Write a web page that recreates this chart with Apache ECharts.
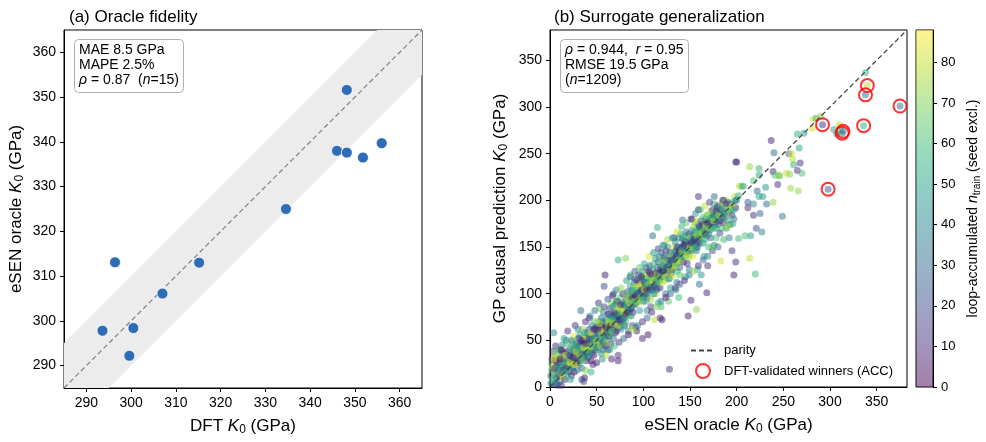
<!DOCTYPE html>
<html>
<head>
<meta charset="utf-8">
<script src="https://cdn.jsdelivr.net/npm/echarts@6/dist/echarts.min.js"></script>
<style>
html,body{margin:0;padding:0;background:#fff;}
#chart{width:986px;height:442px;}
</style>
</head>
<body>
<div id="chart"></div>
<script>
// ---------- Panel (a): oracle fidelity ----------
const dftK  = [348.2, 346.0, 348.2, 351.8, 356.0, 334.6, 315.2, 296.4, 307.0, 293.6, 300.5, 299.6];
const esenK = [351.6, 338.0, 337.6, 336.5, 339.7, 325.0, 313.0, 313.1, 306.1, 297.8, 298.4, 292.2];
const oracleTicks = [290, 300, 310, 320, 330, 340, 350, 360];
const oracleRange = [285, 365];
const bandHalfWidth = 10;

// ---------- Panel (b): surrogate generalization [eSEN K0, GP K0, n_train] ----------
const surrogatePts = [
[1,12,20],[2,25,45],[3,8,70],[3,38,15],[4,18,5],[4,58,40],[5,30,60],[5,3,30],[6,15,85],[6,44,8],[7,22,50],[7,10,22],[8,33,66],[8,2,12],[9,18,35],[9,27,78],[10,12,3],[10,40,55],[2,18,62],[6,28,28],
[11,24,18],[11,6,44],[12,32,72],[12,16,9],[13,45,36],[13,20,58],[14,10,81],[14,28,25],[15,36,4],[15,18,48],[16,24,67],[16,8,14],[17,50,30],[17,30,76],[18,14,52],[18,38,2],[19,22,40],[19,60,11],[20,28,83],[20,16,20],[12,2,10],[15,52,50],[18,26,60],[13,38,24],
[21,34,6],[21,20,56],[22,42,33],[22,26,74],[23,12,17],[23,30,45],[24,48,64],[24,36,8],[25,22,29],[25,54,85],[26,30,41],[26,16,3],[27,40,69],[27,66,12],[28,26,54],[28,46,22],[29,34,78],[29,18,37],[30,38,5],[30,52,61],[22,8,47],[25,40,16],[28,32,88],[30,28,26],[24,28,13],[27,24,70],
[31,44,31],[31,24,66],[32,36,9],[32,56,49],[33,30,80],[33,48,19],[34,40,58],[34,20,27],[35,46,4],[35,62,72],[36,32,39],[36,50,14],[37,42,63],[37,10,6],[38,54,84],[38,36,23],[39,46,51],[39,28,11],[40,58,36],[40,40,76],[33,82,30],[36,6,18],[38,70,10],[32,42,57],[35,36,2],[39,38,44],
[41,48,8],[41,32,60],[42,62,25],[42,44,82],[43,38,16],[43,54,47],[44,46,70],[44,28,3],[45,66,38],[45,50,12],[46,40,57],[46,60,29],[47,52,86],[47,34,7],[48,44,42],[48,70,64],[49,56,20],[49,40,33],[50,50,74],[50,64,1],[43,76,45],[46,24,10],[48,54,26],[41,56,53],[45,44,79],
[51,58,35],[51,40,59],[52,48,13],[52,70,68],[53,60,22],[53,44,81],[54,66,5],[54,52,46],[55,74,30],[55,56,62],[56,46,17],[56,64,77],[57,58,9],[57,80,40],[58,50,55],[58,68,24],[59,62,71],[59,44,2],[60,72,48],[60,56,15],[52,90,12],[55,36,40],[58,108,20],[59,120,6],[54,60,84],[57,70,34],
[61,66,28],[61,50,67],[62,78,11],[62,60,52],[63,70,83],[63,54,4],[64,64,39],[64,84,18],[65,74,60],[65,58,25],[66,68,8],[66,90,73],[67,62,44],[67,76,14],[68,72,56],[68,52,31],[69,80,1],[69,66,78],[70,70,36],[70,88,21],[62,40,10],[65,46,15],[68,100,42],[64,72,66],[67,86,50],[70,58,12],
[71,76,47],[71,60,6],[72,84,70],[72,68,19],[73,74,33],[73,92,85],[74,64,12],[74,80,54],[75,70,26],[75,96,65],[76,78,3],[76,62,40],[77,86,76],[77,72,22],[78,80,58],[78,100,9],[79,74,45],[79,88,30],[80,82,68],[80,66,16],[73,28,6],[73,34,12],[66,30,8],[75,84,80],[78,90,38],[71,92,60],[81,138,70],[73,136,55],
[81,86,29],[81,70,62],[82,94,11],[82,78,84],[83,88,47],[83,102,23],[84,80,7],[84,92,57],[85,98,36],[85,76,72],[86,90,18],[86,108,50],[87,84,2],[87,96,66],[88,104,27],[88,88,80],[89,94,41],[89,80,13],[90,100,61],[90,112,34],[84,60,40],[88,66,22],[86,118,9],[83,94,75],[89,102,55],
[91,96,5],[91,108,74],[92,90,24],[92,104,52],[93,114,12],[93,98,86],[94,92,38],[94,106,63],[95,120,20],[95,100,45],[96,94,71],[96,112,8],[97,104,31],[97,118,57],[98,98,16],[98,110,79],[99,124,44],[99,102,3],[100,106,67],[100,92,26],[93,60,10],[99,52,8],[96,82,48],[100,116,35],[92,64,14],[105,56,5],
[101,112,18],[101,98,55],[102,120,73],[102,106,7],[103,100,42],[103,128,28],[104,112,60],[104,96,14],[105,118,83],[105,106,33],[106,124,4],[106,102,50],[107,114,69],[107,130,21],[108,108,39],[108,94,76],[109,120,10],[109,110,58],[110,126,46],[110,104,25],[110,162,30],[112,72,80],[104,82,40],[108,86,15],[102,116,64],
[111,116,2],[111,132,62],[112,108,30],[112,122,85],[113,114,15],[113,138,48],[114,120,70],[114,104,9],[115,128,37],[115,116,56],[116,134,23],[116,112,78],[117,122,6],[117,140,44],[118,118,65],[118,106,19],[119,128,53],[119,144,32],[120,124,11],[120,112,82],[115,171,55],[118,74,12],[120,72,5],[116,90,50],[113,100,72],[119,86,60],
[121,130,40],[121,118,67],[122,138,14],[122,124,51],[123,114,77],[123,132,27],[124,146,8],[124,126,60],[125,120,35],[125,136,88],[126,128,21],[126,150,45],[127,124,3],[127,140,71],[128,132,31],[128,116,56],[129,144,17],[129,128,80],[130,136,42],[130,122,24],[128,19,10],[124,100,30],[127,92,65],[129,106,48],[122,152,20],
[131,142,63],[131,126,10],[132,134,36],[132,150,82],[133,128,22],[133,144,53],[134,138,7],[134,156,44],[135,132,74],[135,146,28],[136,140,15],[136,124,59],[137,150,39],[137,134,84],[138,144,5],[138,160,50],[139,138,66],[139,128,25],[140,148,12],[140,136,77],[136,112,30],[138,96,60],[133,160,20],[140,164,48],[135,104,45],
[141,150,33],[141,140,58],[142,158,20],[142,144,86],[143,134,9],[143,152,46],[144,162,68],[144,146,27],[145,140,55],[145,156,2],[146,150,80],[146,166,37],[147,144,14],[147,158,62],[148,152,42],[148,138,73],[149,164,18],[149,148,51],[150,156,29],[150,142,66],[142,179,28],[148,76,8],[151,93,10],[145,118,52],[149,126,38],
[151,160,84],[151,146,23],[152,168,45],[152,154,7],[153,150,61],[153,162,31],[154,172,76],[154,158,16],[155,148,54],[155,166,39],[156,160,3],[156,176,70],[157,154,26],[157,168,57],[158,162,82],[158,150,12],[159,174,47],[159,158,35],[160,166,64],[160,154,20],[152,180,8],[156,178,82],[159,190,5],[159,204,10],[158,126,55],[157,83,72],[160,110,30],
[161,170,40],[161,158,73],[162,178,19],[162,164,50],[163,160,86],[163,172,28],[164,182,62],[164,168,9],[165,164,44],[165,176,71],[166,170,23],[166,158,58],[167,180,36],[167,166,80],[168,174,14],[168,162,52],[169,184,67],[169,170,31],[170,176,4],[170,164,59],[168,101,8],[169,130,10],[165,140,50],[162,120,45],[170,150,60],
[171,180,48],[171,168,25],[172,188,74],[172,174,11],[173,170,57],[173,182,38],[174,176,83],[174,190,18],[175,172,43],[175,184,66],[176,178,7],[176,196,53],[177,174,29],[177,186,78],[178,182,34],[178,170,61],[179,192,15],[179,178,46],[180,186,70],[180,174,22],[176,152,40],[178,160,62],[174,146,20],[180,150,30],
[181,190,56],[182,178,12],[183,196,81],[183,184,37],[184,170,64],[185,200,26],[185,188,50],[186,176,8],[187,194,72],[188,182,33],[188,200,85],[189,170,45],[190,188,19],[190,178,60],[191,198,40],[192,186,75],[193,174,28],[194,190,55],[195,184,15],[196,198,68],[197,180,35],[198,204,80],[199,192,10],[200,200,50],[183,135,82],[182,165,20],[186,158,60],[192,160,38],[195,146,14],[197,120,8],[199,134,10],[196,175,55],
[202,205,55],[202,159,60],[203,215,80],[205,215,70],[207,215,50],[209,162,62],[212,198,24],[212,192,12],[214,236,74],[214,138,80],[215,162,48],[218,184,12],[218,221,62],[218,196,40],[220,121,58],[221,170,20],[222,210,30],[224,234,55],[224,227,50],[224,204,52],[225,186,28],[227,166,40],[228,204,48],[231,214,45],[232,196,28],[237,264,8],[239,231,10],[240,251,30],[241,227,62],[244,217,12],[245,227,74],[246,226,66],[249,183,35],[239,198,72],[199,241,8],[200,241,12],
[253,229,80],[256,250,28],[257,228,70],[258,213,74],[259,250,82],[260,244,78],[261,238,55],[265,232,10],[266,210,72],[267,256,50],[268,240,10],[270,229,62],[265,271,55],[272,272,50],
[282,287,82],[285,288,58],[281,277,82],[290,290,72],[292,281,10],[298,212,25],[304,276,50],[307,271,55],[310,281,80],[311,275,60],[313,272,32],[314,274,35],[336,280,55],[338,313,28],[340,323,80],[338,337,55],[375,301,30],
[1,4,40],[2,30,10],[3,22,83],[4,10,55],[5,20,15],[6,36,72],[7,4,33],[8,26,6],[9,40,60],[10,22,45],[11,14,77],[12,40,5],[13,28,68],[14,18,20],[15,26,38],[16,34,84],[17,20,12],[18,46,62],[19,30,27],[20,36,50],[4,30,88],[8,14,42],[11,30,3],[16,16,58],
[21,26,80],[22,34,14],[23,40,63],[24,20,37],[25,32,9],[26,44,55],[27,32,22],[28,38,76],[29,26,5],[30,44,41],[31,36,70],[32,28,18],[33,40,47],[34,50,3],[35,28,64],[36,42,83],[37,34,29],[38,46,11],[39,54,68],[40,32,24],[23,50,40],[26,24,86],[31,52,16],[34,32,60],[37,58,45],
[41,40,72],[42,52,6],[43,46,35],[44,58,87],[45,36,19],[46,52,48],[47,44,66],[48,62,2],[49,48,57],[50,42,28],[51,50,80],[52,62,15],[53,52,43],[54,44,70],[55,64,10],[56,56,61],[57,48,25],[58,60,83],[59,54,37],[60,64,4],[42,36,50],[47,62,18],[53,68,75],[57,40,32],[60,48,69],
[61,58,12],[62,68,74],[63,62,30],[64,56,58],[65,66,7],[66,76,46],[67,68,85],[68,64,20],[69,72,53],[70,78,10],[71,68,65],[72,76,35],[73,66,80],[74,72,2],[75,78,49],[76,70,17],[77,80,71],[78,72,31],[79,82,86],[80,74,43],[63,78,22],[66,60,64],[72,92,28],[76,88,9],[79,66,57],
[81,78,19],[82,86,56],[83,80,5],[84,86,40],[85,90,81],[86,82,27],[87,92,63],[88,96,11],[89,88,48],[90,92,73],[91,88,34],[92,98,2],[93,92,59],[94,100,21],[95,108,84],[96,102,38],[97,96,70],[98,104,13],[99,96,52],[100,100,29],[82,100,66],[87,76,45],[91,116,25],[95,90,77],[98,118,6],
[101,104,81],[102,112,26],[103,108,61],[104,104,4],[105,112,49],[106,110,74],[107,106,16],[108,116,57],[109,104,35],[110,114,86],[111,108,22],[112,116,66],[113,122,8],[114,112,44],[115,120,79],[116,120,30],[117,114,60],[118,126,12],[119,118,71],[120,118,38],[103,92,55],[107,122,8],[111,100,47],[115,106,25],[119,136,65],
[121,124,3],[122,130,62],[123,124,36],[124,118,84],[125,128,17],[126,136,55],[127,130,27],[128,124,75],[129,136,9],[130,130,50],[131,134,21],[132,128,69],[133,136,40],[134,130,86],[135,140,12],[136,132,58],[137,142,31],[138,136,77],[139,146,6],[140,140,47],[123,140,30],[127,116,44],[131,118,80],[136,150,18],[139,120,63],
[141,146,72],[142,150,25],[143,144,61],[144,152,4],[145,148,40],[146,142,83],[147,150,19],[148,146,56],[149,156,33],[150,150,78],[151,154,10],[152,160,50],[153,156,27],[154,150,68],[155,158,8],[156,152,45],[157,162,74],[158,156,20],[159,166,60],[160,160,37],[143,160,52],[147,132,12],[153,140,86],[157,146,40],[160,172,15],
[161,164,65],[162,170,30],[163,166,78],[164,174,12],[165,170,55],[166,164,22],[167,172,84],[168,168,40],[169,176,6],[170,170,70],[171,174,35],[172,180,58],[173,176,16],[174,182,46],[175,178,80],[176,184,25],[177,180,63],[178,188,9],[179,184,52],[180,180,33],[164,154,45],[168,184,70],[172,160,28],[176,170,60],[180,194,20],
[181,184,76],[183,190,14],[184,192,58],[185,182,30],[187,186,44],[189,196,8],[191,190,66],[193,196,24],[195,194,82],[197,190,50],[199,200,36],[186,200,18],[190,172,74],
[30,62,40],[34,8,20],[38,18,70],[42,74,12],[44,16,55],[48,82,30],[50,26,8],[53,84,66],[56,30,44],[58,86,18],[60,34,77],[62,94,25],[64,40,50],[67,98,6],[69,44,61],[71,104,36],[74,48,14],[76,106,72],[79,52,29],[82,114,47],[84,56,3],[86,120,58],[89,62,80],[91,124,22],[94,66,41],[96,128,65],[99,70,11],[101,132,53],[104,74,27],[106,140,84],[109,80,9],[111,144,45],[114,86,70],[116,148,16],[119,92,38],[121,152,60],[124,96,4],[126,158,75],[129,100,31],[131,160,49],[134,106,13],[136,166,82],[139,110,25],[141,172,57],[144,114,7],[146,176,64],[149,120,34],[151,180,19],[154,124,72],[156,186,46],[159,130,11],[161,190,59],[164,136,28],[166,194,80],[169,140,40],[171,198,15],[174,150,66],[176,204,30]
];
const winners = [[292,281],[313,272],[314,274],[336,280],[338,313],[340,323],[375,301],[298,212]];
const surrogateRange = [0, 382.5];
const surrogateTicks = [0, 50, 100, 150, 200, 250, 300, 350];
const nTrainRange = [0, 88];
const nTrainTicks = [0, 10, 20, 30, 40, 50, 60, 70, 80];
const viridis = ['#440154','#482878','#3e4989','#31688e','#26828e','#1f9e89','#35b779','#6ece58','#b5de2b','#fde725'];

const FONT = '"Liberation Sans", Arial, Helvetica, sans-serif';
const chart = echarts.init(document.getElementById('chart'), null, {renderer: 'canvas'});

const nameRich = {
  t: {fontSize: 17, fontFamily: FONT, color: '#000'},
  i: {fontSize: 17, fontFamily: FONT, fontStyle: 'italic', color: '#000'},
  s: {fontSize: 12, fontFamily: FONT, color: '#000', padding: [8, 0, 0, 0]}
};

function valueAxis(gridIndex, range, ticks, extra) {
  return Object.assign({
    type: 'value', gridIndex: gridIndex, min: range[0], max: range[1],
    axisLine: {show: true, onZero: false, lineStyle: {color: '#000', width: 1}},
    axisTick: {show: true, inside: false, length: 4, customValues: ticks, lineStyle: {color: '#000', width: 1}},
    axisLabel: {show: true, customValues: ticks, fontSize: 14, fontFamily: FONT, color: '#000', margin: 8},
    splitLine: {show: false},
    nameLocation: 'middle',
    nameTextStyle: {fontSize: 17, fontFamily: FONT, color: '#000', rich: nameRich}
  }, extra || {});
}

const lo = oracleRange[0], hi = oracleRange[1], hw = bandHalfWidth;
const bandPolygon = [[lo, lo], [lo + hw, lo], [hi, hi - hw], [hi, hi], [hi - hw, hi], [lo, lo + hw]];

const option = {
  backgroundColor: '#fff',
  animation: false,
  textStyle: {fontFamily: FONT},
  title: [
    {text: '(a) Oracle fidelity', left: 64, top: 4, textStyle: {fontSize: 17, fontWeight: 'normal', fontFamily: FONT, color: '#000'}},
    {text: '(b) Surrogate generalization', left: 549, top: 4, textStyle: {fontSize: 17, fontWeight: 'normal', fontFamily: FONT, color: '#000'}},
    {text: 'MAE 8.5 GPa\nMAPE 2.5%\n{i|ρ} = 0.87  ({i|n}=15)', left: 74, top: 39,
     borderColor: '#b0b0b0', borderWidth: 1, borderRadius: 4, padding: [4, 5, 5, 5], backgroundColor: 'rgba(255,255,255,0.9)',
     textStyle: {fontSize: 14, fontWeight: 'normal', fontFamily: FONT, color: '#000', lineHeight: 15,
       rich: {i: {fontSize: 14, fontStyle: 'italic', fontFamily: FONT, color: '#000', lineHeight: 15}}}},
    {text: '{i|ρ} = 0.944,  {i|r} = 0.95\nRMSE 19.5 GPa\n({i|n}=1209)', left: 560, top: 39,
     borderColor: '#b0b0b0', borderWidth: 1, borderRadius: 4, padding: [4, 5, 5, 5], backgroundColor: 'rgba(255,255,255,0.9)',
     textStyle: {fontSize: 14, fontWeight: 'normal', fontFamily: FONT, color: '#000', lineHeight: 15,
       rich: {i: {fontSize: 14, fontStyle: 'italic', fontFamily: FONT, color: '#000', lineHeight: 15}}}}
  ],
  grid: [
    {left: 64, top: 30, width: 358, height: 358, show: true, borderColor: '#000', borderWidth: 1, backgroundColor: 'transparent'},
    {left: 550, top: 30, width: 357, height: 357, show: true, borderColor: '#000', borderWidth: 1, backgroundColor: 'transparent'},
    {left: 916, top: 30, width: 17, height: 357, show: true, borderColor: '#000', borderWidth: 1, backgroundColor: 'transparent'}
  ],
  xAxis: [
    valueAxis(0, oracleRange, oracleTicks, {name: '{t|DFT }{i|K}{s|0}{t| (GPa)}', nameGap: 28}),
    valueAxis(1, surrogateRange, surrogateTicks, {name: '{t|eSEN oracle }{i|K}{s|0}{t| (GPa)}', nameGap: 28}),
    {type: 'category', gridIndex: 2, data: ['cb'], show: false, boundaryGap: true}
  ],
  yAxis: [
    valueAxis(0, oracleRange, oracleTicks, {name: '{t|eSEN oracle }{i|K}{s|0}{t| (GPa)}', nameGap: 38}),
    valueAxis(1, surrogateRange, surrogateTicks, {name: '{t|GP causal prediction }{i|K}{s|0}{t| (GPa)}', nameGap: 40}),
    valueAxis(2, nTrainRange, nTrainTicks, {position: 'right',
      axisLabel: {customValues: nTrainTicks, fontSize: 13, fontFamily: FONT, color: '#000', margin: 8},
      name: '{c|loop-accumulated }{ci|n}{cs|train}{c| (seed excl.)}', nameGap: 32, nameRotate: 90,
      nameTextStyle: {fontFamily: FONT, color: '#000', rich: {
        c: {fontSize: 14, fontFamily: FONT, color: '#000'},
        ci: {fontSize: 14, fontFamily: FONT, fontStyle: 'italic', color: '#000'},
        cs: {fontSize: 10, fontFamily: FONT, color: '#000', padding: [7, 0, 0, 0]}}}})
  ],
  visualMap: [{
    type: 'continuous', show: false, seriesIndex: 3, dimension: 2,
    min: nTrainRange[0], max: nTrainRange[1], inRange: {color: viridis}
  }],
  legend: {
    orient: 'vertical', left: 685, top: 339, itemWidth: 24, itemHeight: 14, itemGap: 6,
    textStyle: {fontSize: 13, fontFamily: FONT, color: '#000', padding: [0, 0, 0, 4]},
    data: [
      {name: 'parity', itemStyle: {opacity: 0}},
      {name: 'DFT-validated winners (ACC)', icon: 'circle'}
    ]
  },
  series: [
    {type: 'custom', xAxisIndex: 0, yAxisIndex: 0, silent: true, z: 1, data: [[lo, lo]],
     renderItem: function (params, api) {
       return {type: 'polygon', shape: {points: bandPolygon.map(p => api.coord(p))}, style: {fill: '#ececec'}};
     }},
    {type: 'line', xAxisIndex: 0, yAxisIndex: 0, silent: true, z: 2, symbol: 'none',
     data: [[lo, lo], [hi, hi]], lineStyle: {color: '#808080', width: 1.2, type: [5, 3]}},
    {type: 'scatter', xAxisIndex: 0, yAxisIndex: 0, z: 3, symbolSize: 11,
     data: dftK.map((v, i) => [v, esenK[i]]),
     itemStyle: {color: '#2e6db6', borderColor: '#fff', borderWidth: 0.8, opacity: 1}},
    {type: 'scatter', xAxisIndex: 1, yAxisIndex: 1, z: 3, symbolSize: 7,
     data: surrogatePts, itemStyle: {opacity: 0.5}},
    {name: 'parity', type: 'line', xAxisIndex: 1, yAxisIndex: 1, silent: true, z: 4, symbol: 'none',
     data: [[surrogateRange[0], surrogateRange[0]], [surrogateRange[1], surrogateRange[1]]],
     itemStyle: {color: '#444'},
     lineStyle: {color: '#444', width: 1.3, type: [5, 3]}},
    {name: 'DFT-validated winners (ACC)', type: 'scatter', xAxisIndex: 1, yAxisIndex: 1, z: 5, symbol: 'circle', symbolSize: 13,
     data: winners,
     itemStyle: {color: 'rgba(255,255,255,0)', borderColor: '#ff0000', borderWidth: 2}},
    {type: 'bar', xAxisIndex: 2, yAxisIndex: 2, silent: true, barWidth: '100%', z: 1,
     data: [nTrainRange[1]],
     itemStyle: {opacity: 0.5, color: new echarts.graphic.LinearGradient(0, 1, 0, 0,
       viridis.map((c, i) => ({offset: i / (viridis.length - 1), color: c})))}}
  ]
};
chart.setOption(option);
</script>
</body>
</html>
